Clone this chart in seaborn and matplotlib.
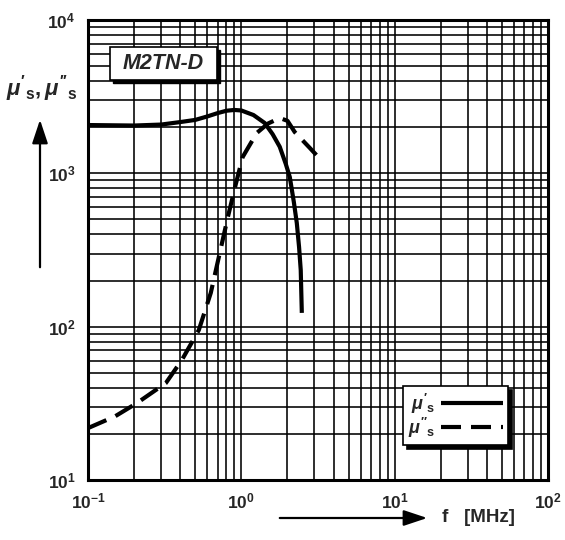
import numpy as np
import pandas as pd
import seaborn as sns
import matplotlib
matplotlib.use("Agg")
import matplotlib.pyplot as plt
from matplotlib.patches import FancyArrowPatch, Rectangle

# ---- data ----
f_real = [0.1, 0.2, 0.3, 0.4, 0.5, 0.6, 0.7, 0.8, 0.9, 1.0, 1.2, 1.42, 1.6, 1.78, 1.95, 2.07, 2.2, 2.3, 2.38, 2.44, 2.48]
mu_real = [2065, 2050, 2080, 2160, 2230, 2350, 2470, 2560, 2590, 2570, 2400, 2130, 1800, 1490, 1150, 946, 650, 474, 330, 234, 123]

f_imag = [0.1, 0.15, 0.209, 0.322, 0.409, 0.528, 0.632, 0.713, 0.817, 0.92, 1.02, 1.26, 1.49, 1.78, 2.0, 2.23, 2.8, 3.4]
mu_imag = [21.8, 26, 31.8, 42.9, 60.5, 95, 166, 284, 519, 850, 1277, 1832, 2110, 2295, 2200, 1858, 1462, 1186]

x_ticks = [0.1, 1, 10, 100]
x_ticklabels = [r"$\mathbf{10^{-1}}$", r"$\mathbf{10^{0}}$", r"$\mathbf{10^{1}}$", r"$\mathbf{10^{2}}$"]
y_ticks = [10, 100, 1000, 10000]
y_ticklabels = [r"$\mathbf{10^{1}}$", r"$\mathbf{10^{2}}$", r"$\mathbf{10^{3}}$", r"$\mathbf{10^{4}}$"]

label_real = r"$\mu'_{\mathbf{s}}$"
label_imag = r"$\mu''_{\mathbf{s}}$"
material = "M2TN-D"

sns.set_style("white")
plt.rcParams["font.family"] = ["Liberation Sans", "DejaVu Sans"]
plt.rcParams["font.weight"] = "bold"
plt.rcParams["mathtext.fontset"] = "custom"
plt.rcParams["mathtext.rm"] = "Liberation Sans:bold"
plt.rcParams["mathtext.bf"] = "Liberation Sans:bold"
plt.rcParams["mathtext.it"] = "Liberation Sans:bold:italic"

W, H = 565, 540
fig = plt.figure(figsize=(W / 100, H / 100), dpi=100)
L, R, T, B = 88, 548, 20, 480
ax = fig.add_axes([L / W, 1 - B / H, (R - L) / W, (B - T) / H])

df_r = pd.DataFrame({"f": f_real, "mu": mu_real})
df_i = pd.DataFrame({"f": f_imag, "mu": mu_imag})
sns.lineplot(data=df_r, x="f", y="mu", ax=ax, color="black", linewidth=3.0,
             label=label_real, zorder=5, solid_capstyle="butt")
sns.lineplot(data=df_i, x="f", y="mu", ax=ax, color="black", linewidth=3.0,
             linestyle=(0, (4.8, 2.4)), label=label_imag, zorder=5, dash_capstyle="butt")

ax.set_xscale("log")
ax.set_yscale("log")
ax.set_xlim(0.1, 100)
ax.set_ylim(10, 10000)
ax.set_xlabel("")
ax.set_ylabel("")

ax.set_xticks(x_ticks)
ax.set_xticklabels(x_ticklabels)
ax.set_yticks(y_ticks)
ax.set_yticklabels(y_ticklabels)
ax.xaxis.set_minor_locator(matplotlib.ticker.LogLocator(base=10, subs=np.arange(2, 10)))
ax.yaxis.set_minor_locator(matplotlib.ticker.LogLocator(base=10, subs=np.arange(2, 10)))
ax.xaxis.set_minor_formatter(matplotlib.ticker.NullFormatter())
ax.yaxis.set_minor_formatter(matplotlib.ticker.NullFormatter())
ax.tick_params(axis="both", which="both", length=0, labelsize=12.5)
ax.tick_params(axis="x", pad=8)
ax.tick_params(axis="y", pad=9)
ax.grid(True, which="both", color="black", linewidth=1.15)
ax.set_axisbelow(True)
for s in ax.spines.values():
    s.set_visible(True)
    s.set_color("black")
    s.set_linewidth(2.2)

# legend
leg = ax.legend(loc="upper left", bbox_to_anchor=(403 / W, 1 - 386 / H),
                bbox_transform=fig.transFigure, markerfirst=False,
                handlelength=3.4, handletextpad=0.3, labelspacing=0.0,
                borderpad=0.3, borderaxespad=0, fontsize=13,
                frameon=True, fancybox=False, framealpha=1,
                shadow={"ox": 3, "oy": -3, "facecolor": "black", "edgecolor": "black", "alpha": 1})
leg.get_frame().set_edgecolor("black")
leg.get_frame().set_linewidth(1.2)
leg.set_zorder(10)

# material box with shadow
bx0, by0, bx1, by1 = 110, 47, 217, 80
fig.patches.append(Rectangle((bx0 / W + 3 / W, 1 - by1 / H - 3 / H), (bx1 - bx0) / W, (by1 - by0) / H,
                             transform=fig.transFigure, facecolor="black", edgecolor="black", zorder=8))
fig.patches.append(Rectangle((bx0 / W, 1 - by1 / H), (bx1 - bx0) / W, (by1 - by0) / H,
                             transform=fig.transFigure, facecolor="white", edgecolor="black",
                             linewidth=1.2, zorder=9))
fig.text((bx0 + bx1) / 2 / W, 1 - (by0 + by1) / 2 / H, material, ha="center", va="center",
         fontsize=15.5, fontweight="bold", fontstyle="italic", zorder=10)

# y axis label and arrow
fig.text(42 / W, 1 - 89 / H, r"$\mu'_{\mathbf{s}}, \mu''_{\mathbf{s}}$", ha="center", va="center",
         fontsize=16)
fig.patches.append(FancyArrowPatch((40 / W, 1 - 270 / H), (40 / W, 1 - 117 / H),
                                   transform=fig.transFigure, arrowstyle="-|>,head_length=0.9,head_width=0.3",
                                   mutation_scale=16, color="black", linewidth=1.6))
# x axis arrow and label
fig.patches.append(FancyArrowPatch((277 / W, 1 - 518 / H), (430 / W, 1 - 518 / H),
                                   transform=fig.transFigure, arrowstyle="-|>,head_length=0.9,head_width=0.3",
                                   mutation_scale=16, color="black", linewidth=1.6))
fig.text(442 / W, 1 - 518 / H, "f   [MHz]", ha="left", va="center", fontsize=13.5, fontweight="bold")

fig.savefig("out.png", dpi=100, facecolor="white")
